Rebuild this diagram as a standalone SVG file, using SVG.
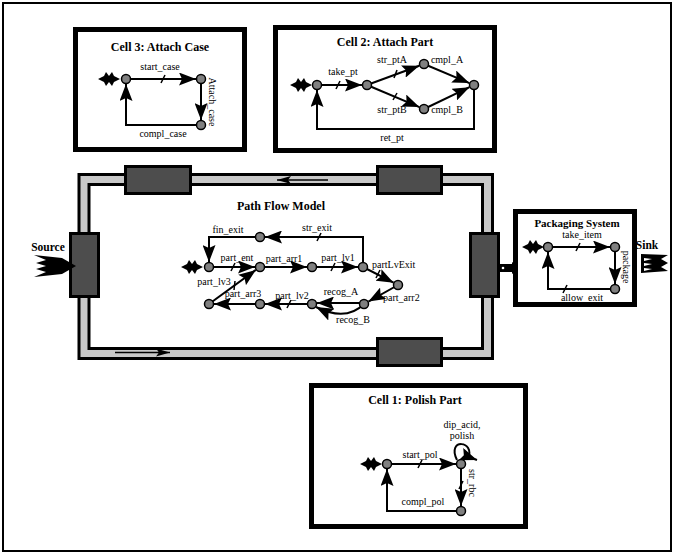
<svg xmlns="http://www.w3.org/2000/svg" width="674" height="554" viewBox="0 0 674 554" font-family="'Liberation Serif', 'DejaVu Serif', serif">
  <style>
    text { font-family: 'Liberation Serif', 'DejaVu Serif', serif; fill: #000; }
    .lbl { font-size: 10px; text-anchor: middle; }
    .lbl-l { font-size: 10px; text-anchor: start; }
    .title { font-size: 12px; font-weight: bold; text-anchor: middle; }
    .title-s { font-size: 11.5px; font-weight: bold; text-anchor: middle; }
    .cell { fill: #fff; stroke: #000; stroke-width: 5; }
    .station { fill: #4d4d4d; stroke: #000; stroke-width: 3; }
    .edge { fill: none; stroke: #000; stroke-width: 2; marker-end: url(#head); }
    .line { fill: none; stroke: #000; stroke-width: 2; }
    .tick { stroke: #000; stroke-width: 1.5; }
    .node { fill: #808080; stroke: #000; stroke-width: 1.5; }
    .star { fill: #000; }
  </style>
  <defs>
    <marker id="head" viewBox="0 0 17 13" refX="17" refY="6.5" markerWidth="17" markerHeight="13" markerUnits="userSpaceOnUse" orient="auto">
      <path d="M0,0 L17,6.5 L0,13 L3,6.5 z" fill="#000"/>
    </marker>
    <marker id="track-head" viewBox="0 0 14 8" refX="14" refY="4" markerWidth="14" markerHeight="8" markerUnits="userSpaceOnUse" orient="auto">
      <path d="M0,0 L14,4 L0,8 L3,4 z" fill="#000"/>
    </marker>
    <!-- initial-state star, centred on the origin -->
    <polygon id="star" points="-11,0 -5,-3 -3,-7 0,-3 3,-7 5,-3 11,0 5,3 3,7 0,3 -3,7 -5,3"/>
  </defs>

  <!-- frame -->
  <rect x="3" y="3" width="668" height="548" fill="#fff" stroke="#000" stroke-width="2"/>

  <!-- conveyor loop -->
  <g id="conveyor">
    <rect x="84" y="179.5" width="403.5" height="174" fill="none" stroke="#000" stroke-width="13"/>
    <rect x="84" y="179.5" width="403.5" height="174" fill="none" stroke="#c8c8c8" stroke-width="7"/>
    <line x1="328" y1="180" x2="277" y2="180" stroke="#000" stroke-width="1.5" marker-end="url(#track-head)"/>
    <line x1="115" y1="352.5" x2="170" y2="352.5" stroke="#000" stroke-width="1.5" marker-end="url(#track-head)"/>
  </g>

  <!-- stations on the conveyor -->
  <g id="station-top-left"><rect class="station" x="125.5" y="166.5" width="65" height="27"/></g>
  <g id="station-top-right"><rect class="station" x="377.5" y="166.5" width="64" height="27"/></g>
  <g id="station-left"><rect class="station" x="70.5" y="233.5" width="28" height="63"/></g>
  <g id="station-right"><rect class="station" x="470.5" y="233.5" width="28" height="63"/></g>
  <g id="station-bottom"><rect class="station" x="377.5" y="338.5" width="64" height="27"/></g>

  <!-- source -->
  <g id="source">
    <text class="title-s" x="48" y="251">Source</text>
    <polygon fill="#000" points="34,255 62,258 76,266 62,274 34,277 46,272 36,269 46,266 36,263 46,260"/>
  </g>

  <!-- link to packaging -->
  <g id="packaging-link">
    <rect x="499" y="264" width="14" height="8" fill="#000"/>
    <polygon points="512,262 520,268 512,274" fill="#000"/>
    <circle cx="503" cy="268" r="1.3" fill="#fff"/>
  </g>

  <!-- sink -->
  <g id="sink">
    <text class="title-s" x="647" y="249">Sink</text>
    <polygon fill="#000" points="641,254 668,255 661,259 668,263 661,267 668,271 641,273"/>
    <polygon fill="#fff" points="644,258 652,259 644,261"/>
    <polygon fill="#fff" points="644,263 652,264 644,266"/>
    <polygon fill="#fff" points="644,268 652,269 644,271"/>
  </g>

  <!-- Cell 3 -->
  <g id="cell3">
    <rect class="cell" x="75.5" y="29.5" width="169" height="120"/>
    <text class="title" x="160" y="51">Cell 3: Attach Case</text>
    <g class="connectors">
      <path class="edge" d="M126,79 L196,79"/>
      <line class="tick" x1="161" y1="83" x2="165" y2="75"/>
      <path class="edge" d="M201,79 L201,120"/>
      <path class="edge" d="M201,125 L126,125 L126,84"/>
    </g>
    <use href="#star" class="star" x="109" y="79"/>
    <circle class="node" cx="126" cy="79" r="4.5"/>
    <circle class="node" cx="201" cy="79" r="4.5"/>
    <circle class="node" cx="201" cy="125" r="4.5"/>
    <text class="lbl" x="160" y="70">start_case</text>
    <text class="lbl" x="163" y="137">compl_case</text>
    <text class="lbl" transform="translate(209,102) rotate(90)">Attach_case</text>
  </g>

  <!-- Cell 2 -->
  <g id="cell2">
    <rect class="cell" x="275.5" y="27.5" width="219" height="123"/>
    <text class="title" x="385" y="46">Cell 2: Attach Part</text>
    <g class="connectors">
      <path class="edge" d="M317,85 L362,85"/>
      <line class="tick" x1="336" y1="89" x2="340" y2="81"/>
      <path class="edge" d="M367,85 L419.3,65.7"/>
      <line class="tick" x1="394" y1="78" x2="397" y2="70"/>
      <path class="edge" d="M367,85 L419.4,107.1"/>
      <line class="tick" x1="393" y1="100" x2="397" y2="93"/>
      <path class="edge" d="M424,64 L469.4,83.1"/>
      <path class="edge" d="M424,109 L469.5,87.2"/>
      <path class="edge" d="M474,85 L474,129 L317,129 L317,90"/>
    </g>
    <use href="#star" class="star" x="301" y="85"/>
    <circle class="node" cx="317" cy="85" r="4.5"/>
    <circle class="node" cx="367" cy="85" r="4.5"/>
    <circle class="node" cx="424" cy="64" r="4.5"/>
    <circle class="node" cx="424" cy="109" r="4.5"/>
    <circle class="node" cx="474" cy="85" r="4.5"/>
    <text class="lbl" x="343" y="75">take_pt</text>
    <text class="lbl" x="392" y="63">str_ptA</text>
    <text class="lbl" x="447" y="63">cmpl_A</text>
    <text class="lbl" x="392" y="113">str_ptB</text>
    <text class="lbl" x="447" y="113">cmpl_B</text>
    <text class="lbl" x="392" y="141">ret_pt</text>
  </g>

  <!-- Path Flow Model -->
  <g id="path-flow">
    <text class="title" x="281" y="210">Path Flow Model</text>
    <g class="connectors">
      <path class="edge" d="M209,267 L255,267"/>
      <line class="tick" x1="231" y1="271" x2="235" y2="263"/>
      <path class="edge" d="M260,267 L307,267"/>
      <path class="edge" d="M312,267 L358,267"/>
      <line class="tick" x1="331" y1="271" x2="335" y2="263"/>
      <path class="edge" d="M363,267 L363,237 L265,237"/>
      <line class="tick" x1="317" y1="241" x2="321" y2="233"/>
      <path class="edge" d="M260,237 L209,237 L209,262"/>
      <path class="edge" d="M363,267 L393.6,282.7"/>
      <line class="tick" x1="376" y1="278" x2="380" y2="270"/>
      <path class="edge" d="M398,285 L368.4,301.6"/>
      <path class="edge" d="M364,303 L317,303"/>
      <path class="edge" d="M364,304 Q346,322 316,307"/>
      <path class="edge" d="M312,304 L265,304"/>
      <line class="tick" x1="287" y1="308" x2="291" y2="300"/>
      <path class="edge" d="M260,304 L214,304"/>
      <path class="edge" d="M209,304 L255.9,269.9"/>
      <line class="tick" x1="234" y1="290" x2="235" y2="281"/>
    </g>
    <use href="#star" class="star" x="192" y="267"/>
    <circle class="node" cx="209" cy="267" r="4.5"/>
    <circle class="node" cx="260" cy="267" r="4.5"/>
    <circle class="node" cx="312" cy="267" r="4.5"/>
    <circle class="node" cx="363" cy="267" r="4.5"/>
    <circle class="node" cx="398" cy="285" r="4.5"/>
    <circle class="node" cx="364" cy="304" r="4.5"/>
    <circle class="node" cx="312" cy="304" r="4.5"/>
    <circle class="node" cx="260" cy="304" r="4.5"/>
    <circle class="node" cx="209" cy="304" r="4.5"/>
    <circle class="node" cx="260" cy="237" r="4.5"/>
    <text class="lbl" x="228" y="233">fin_exit</text>
    <text class="lbl" x="317" y="231">str_exit</text>
    <text class="lbl" x="237" y="261">part_ent</text>
    <text class="lbl" x="284" y="262">part_arr1</text>
    <text class="lbl" x="338" y="261">part_lv1</text>
    <text class="lbl-l" x="372" y="268">partLvExit</text>
    <text class="lbl" x="214" y="285">part_lv3</text>
    <text class="lbl" x="243" y="297">part_arr3</text>
    <text class="lbl" x="292" y="299">part_lv2</text>
    <text class="lbl" x="341" y="295">recog_A</text>
    <text class="lbl-l" x="383" y="301">part_arr2</text>
    <text class="lbl" x="353" y="323">recog_B</text>
  </g>

  <!-- Packaging System -->
  <g id="packaging">
    <rect class="cell" x="515.5" y="211.5" width="119" height="93"/>
    <text class="title-s" x="577" y="227" style="font-size:11px">Packaging System</text>
    <g class="connectors">
      <path class="edge" d="M548,247 L610,247"/>
      <line class="tick" x1="576" y1="251" x2="580" y2="243"/>
      <path class="edge" d="M615,247 L615,284"/>
      <path class="edge" d="M615,289 L548,289 L548,252"/>
      <line class="tick" x1="563" y1="293" x2="567" y2="285"/>
    </g>
    <use href="#star" class="star" x="533" y="247"/>
    <circle class="node" cx="548" cy="247" r="4.5"/>
    <circle class="node" cx="615" cy="247" r="4.5"/>
    <circle class="node" cx="615" cy="289" r="4.5"/>
    <text class="lbl" x="582" y="238">take_item</text>
    <text class="lbl" x="582" y="301">allow_exit</text>
    <text class="lbl" transform="translate(623,267) rotate(90)">package</text>
  </g>

  <!-- Cell 1 -->
  <g id="cell1">
    <rect class="cell" x="311.5" y="385.5" width="214" height="141"/>
    <text class="title" x="415" y="404">Cell 1: Polish Part</text>
    <g class="connectors">
      <path class="line" d="M457,460 C446,438 476,440 468,459"/>
      <path class="edge" d="M466,456 L477,460"/>
      <path class="edge" d="M387,464 L456,464"/>
      <line class="tick" x1="418" y1="468" x2="422" y2="460"/>
      <path class="edge" d="M461,464 L461,506"/>
      <line class="tick" x1="459" y1="489" x2="463" y2="481"/>
      <path class="edge" d="M461,511 L387,511 L387,469"/>
    </g>
    <use href="#star" class="star" x="371" y="464"/>
    <circle class="node" cx="387" cy="464" r="4.5"/>
    <circle class="node" cx="461" cy="464" r="4.5"/>
    <circle class="node" cx="461" cy="511" r="4.5"/>
    <text class="lbl" x="462" y="428">dip_acid,</text>
    <text class="lbl" x="462" y="439">polish</text>
    <text class="lbl" x="420" y="458">start_pol</text>
    <text class="lbl" x="423" y="505">compl_pol</text>
    <text class="lbl" transform="translate(469,483) rotate(90)">str_rbc</text>
  </g>
</svg>
